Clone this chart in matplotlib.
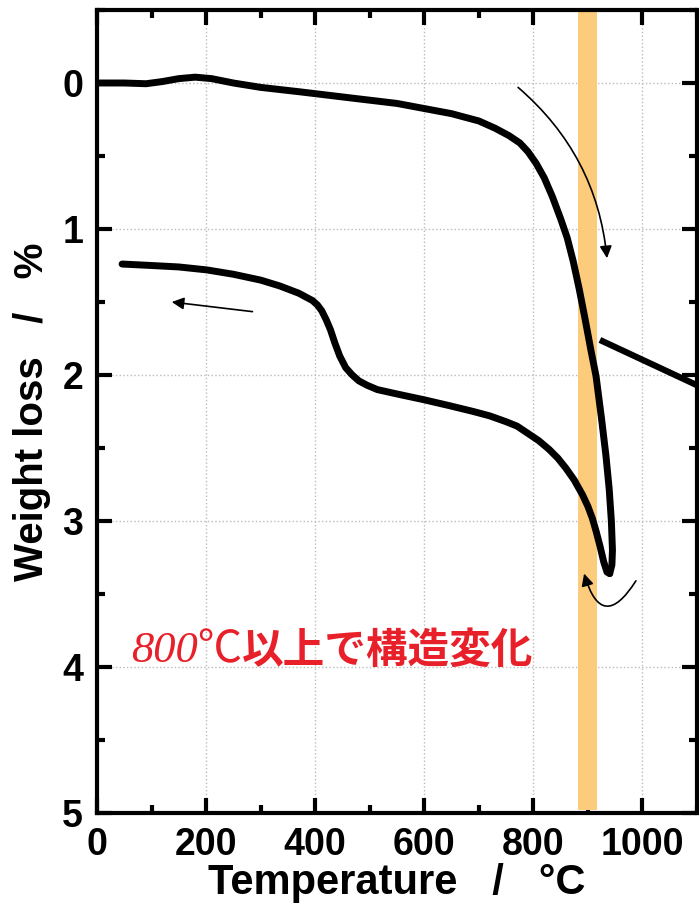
import numpy as np
import matplotlib.pyplot as plt
from matplotlib.ticker import MultipleLocator

plt.rcParams['font.family'] = ['Liberation Sans', 'DejaVu Sans']
plt.rcParams['font.weight'] = 'bold'

# heating branch (temperature in C, weight loss in %)
heat_t = [0, 50, 90, 120, 150, 180, 210, 250, 300, 371, 460, 550, 600, 650, 700,
          730, 755, 775, 790, 805, 820, 835, 850, 862, 873, 884, 895, 905, 915,
          925, 933, 939, 943, 945, 944, 940]
heat_w = [0.0, 0.0, 0.005, -0.01, -0.03, -0.04, -0.03, 0.0, 0.03, 0.06, 0.10,
          0.14, 0.175, 0.21, 0.26, 0.31, 0.36, 0.41, 0.47, 0.55, 0.65, 0.78, 0.93,
          1.06, 1.22, 1.41, 1.62, 1.82, 2.01, 2.30, 2.55, 2.78, 3.0, 3.2, 3.30, 3.36]
# cooling branch
cool_t = [940, 935, 929, 922, 915, 908, 900, 890, 875, 860, 845, 829, 810, 790,
          770, 750, 720, 690, 646, 600, 550, 514, 495, 480, 468, 456, 445, 436,
          428, 420, 412, 404, 395, 370, 335, 300, 250, 201, 150, 100, 46]
cool_w = [3.36, 3.35, 3.28, 3.17, 3.07, 2.98, 2.90, 2.82, 2.72, 2.64, 2.57, 2.51,
          2.45, 2.40, 2.35, 2.32, 2.28, 2.25, 2.21, 2.17, 2.13, 2.10, 2.07, 2.04,
          2.0, 1.95, 1.87, 1.78, 1.69, 1.62, 1.56, 1.52, 1.49, 1.44, 1.39, 1.35,
          1.31, 1.28, 1.26, 1.25, 1.24]
# straight guide line at right
guide_t = [922, 1100]
guide_w = [1.76, 2.07]
band = [882, 917]

fig = plt.figure(figsize=(6.99, 9.08), dpi=100)
ax = fig.add_axes([97 / 699, 95 / 908, 600 / 699, 803 / 908])

ax.axvspan(band[0], band[1], ymin=0.004, ymax=1, color='#fccb7c', lw=0, zorder=1)
ax.plot(heat_t, heat_w, color='black', lw=5, solid_joinstyle='round',
        solid_capstyle='round', zorder=3)
ax.plot(cool_t, cool_w, color='black', lw=5, solid_joinstyle='round',
        solid_capstyle='round', zorder=3)
ax.plot(guide_t, guide_w, color='black', lw=4.5, solid_capstyle='butt', zorder=3)

# arrows
ax.annotate('', xy=(935, 1.2), xytext=(772, 0.03),
            arrowprops=dict(arrowstyle='-|>', color='black', lw=1.2,
                            mutation_scale=18, shrinkA=0, shrinkB=0,
                            connectionstyle='arc3,rad=-0.2'), zorder=4)
ax.annotate('', xy=(137, 1.50), xytext=(285, 1.566),
            arrowprops=dict(arrowstyle='-|>', color='black', lw=1.2,
                            mutation_scale=18, shrinkA=0, shrinkB=0), zorder=4)
ax.annotate('', xy=(893, 3.36), xytext=(988, 3.41),
            arrowprops=dict(arrowstyle='-|>', color='black', lw=1.2,
                            mutation_scale=18, shrinkA=0, shrinkB=0,
                            connectionstyle='arc3,rad=-1.1'), zorder=4)

t1 = ax.text(62, 3.97, '800℃', color='#e8202a', fontsize=32, style='italic',
             fontweight='normal', family=['Liberation Serif', 'Noto Sans CJK JP'],
             va='baseline', ha='left')
ax.annotate('以上で構造変化', xy=(1, 0), xycoords=t1, va='bottom', ha='left',
            color='#e8202a', fontsize=30, fontweight='bold',
            family=['Noto Sans CJK JP'])

ax.set_xlim(0, 1100)
ax.set_ylim(5, -0.5)
ax.xaxis.set_major_locator(MultipleLocator(200))
ax.xaxis.set_minor_locator(MultipleLocator(100))
ax.yaxis.set_major_locator(MultipleLocator(1))
ax.yaxis.set_minor_locator(MultipleLocator(0.5))
ax.tick_params(which='both', direction='in', top=True, right=True, width=3)
ax.tick_params(which='major', length=11, labelsize=27, pad=10)
ax.tick_params(which='minor', length=6)
ax.grid(True, which='major', linestyle=':', color='#bbbbbb', lw=1)
ax.set_axisbelow(True)
for s in ax.spines.values():
    s.set_linewidth(3)

ax.set_xlabel('Temperature   /   °C', fontsize=30, fontweight='bold', labelpad=0)
ax.set_ylabel('Weight loss   /   %', fontsize=29, fontweight='bold', labelpad=8)

fig.savefig('out.png', dpi=100)
